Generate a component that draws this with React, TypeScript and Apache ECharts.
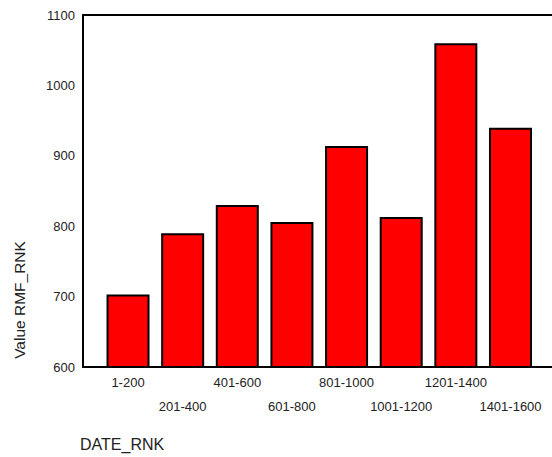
import React, { useEffect, useRef } from "react";
import * as echarts from "echarts";

const categories = ["1-200", "201-400", "401-600", "601-800", "801-1000", "1001-1200", "1201-1400", "1401-1600"];
const values = [703, 790, 830, 806, 914, 813, 1060, 940];
const yTicks = { min: 600, max: 1100, interval: 100 };

const FONT = "'Liberation Sans', Arial, sans-serif";

export default function App() {
  const ref = useRef<HTMLDivElement>(null);
  useEffect(() => {
    document.body.style.margin = "0";
    if (!ref.current) return;
    const chart = echarts.init(ref.current, null, { renderer: "svg" });
    const gTop = 15;
    const gBottom = 90;
    const frameLine = { show: true, lineStyle: { color: "#000", width: 2 } };
    chart.setOption({
      animation: false,
      backgroundColor: "#fff",
      textStyle: { fontFamily: FONT },
      grid: [
        { left: 100.7, right: 14.2, top: gTop, bottom: gBottom },
        { left: 83, right: 0, top: gTop, bottom: gBottom },
      ],
      xAxis: [
        {
          gridIndex: 0,
          type: "category",
          data: categories,
          axisLine: { show: false },
          axisTick: { show: false },
          axisLabel: {
            interval: 0,
            fontSize: 13,
            color: "#222",
            fontFamily: FONT,
            lineHeight: 24,
            margin: 3,
            formatter: (v: string, i: number) => (i % 2 ? "\n" + v : v),
          },
        },
        {
          gridIndex: 1,
          type: "value",
          min: 0,
          max: 1,
          position: "bottom",
          axisLine: frameLine,
          axisTick: { show: false },
          axisLabel: { show: false },
          splitLine: { show: false },
        },
        {
          gridIndex: 1,
          type: "value",
          min: 0,
          max: 1,
          position: "top",
          axisLine: frameLine,
          axisTick: { show: false },
          axisLabel: { show: false },
          splitLine: { show: false },
        },
      ],
      yAxis: [
        { gridIndex: 0, type: "value", ...yTicks, show: false },
        {
          gridIndex: 1,
          type: "value",
          ...yTicks,
          axisLine: frameLine,
          axisTick: { show: false },
          splitLine: { show: false },
          axisLabel: {
            fontSize: 13,
            color: "#222",
            margin: 8,
            fontFamily: FONT,
            formatter: (v: number) => String(v),
          },
        },
      ],
      graphic: [
        {
          type: "text",
          x: 19,
          y: 300,
          rotation: Math.PI / 2,
          style: {
            text: "Value RMF_RNK",
            fontSize: 15.5,
            fontFamily: FONT,
            fill: "#222",
            align: "center",
            verticalAlign: "middle",
          },
        },
        {
          type: "text",
          x: 80,
          y: 444,
          style: {
            text: "DATE_RNK",
            fontSize: 16,
            fontFamily: FONT,
            fill: "#222",
            align: "left",
            verticalAlign: "middle",
          },
        },
      ],
      series: [
        {
          type: "bar",
          xAxisIndex: 0,
          yAxisIndex: 0,
          data: values,
          barWidth: 43,
          itemStyle: { color: "#ff0000", borderColor: "#000", borderWidth: 2 },
        },
      ],
    });
    return () => chart.dispose();
  }, []);
  return <div ref={ref} style={{ width: 552, height: 457 }} />;
}
